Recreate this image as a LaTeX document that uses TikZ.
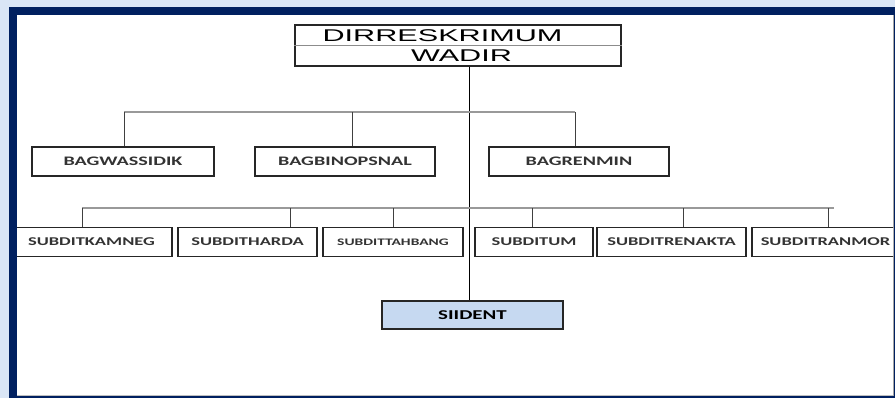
\documentclass[tikz,border=0pt]{standalone}
\usepackage{fontspec}
\newfontfamily\topfont[FakeStretch=1.8]{Liberation Sans}
\newfontfamily\bagfont[FakeStretch=1.55]{Carlito}
\definecolor{navy}{HTML}{002060}
\definecolor{bgblue}{HTML}{DAE6F6}
\definecolor{siifill}{HTML}{C6D9F1}
\begin{document}
\begin{tikzpicture}[x=1pt,y=-1pt,
  box/.style={draw=black!85, line width=1.3pt, fill=white, inner sep=0pt},
  bagbox/.style={box, minimum height=29pt, font=\bagfont\bfseries\fontsize{13}{13}\selectfont, text=black!80},
  subbox/.style={box, minimum height=28.5pt, font=\bagfont\bfseries\fontsize{11.9}{12}\selectfont, text=black!80},
  toptext/.style={inner sep=0pt, font=\topfont\fontsize{17}{17}\selectfont, text=black},
  bus/.style={draw=black!40, line width=1.4pt},
  drop/.style={draw=black!75, line width=0.9pt},
  spine/.style={draw=black, line width=0.8pt}]
\useasboundingbox (0,0) rectangle (895,398);
% frame
\fill[bgblue] (0,0) rectangle (895,398);
\fill[navy] (9,7) rectangle (895,398);
\fill[white] (17,15) rectangle (893,395.5);
\draw[black!35, line width=1pt] (893.5,15) -- (893.5,395.5);
\draw[black!25, line width=0.8pt] (17,395.2) -- (893,395.2);
\begin{scope}
\clip (17,15) rectangle (893,395);
% coordinates
\coordinate (bus1) at (469.5,112);
\coordinate (bus2) at (834,208);
% top box
\node[box, minimum width=326pt, minimum height=41pt] (top) at (458,45.5) {};
\draw[black!45, line width=0.9pt] (top.west) -- (top.east);
\node[toptext] (dir) at (442.5,35.5) {DIRRESKRIMUM};
\node[toptext] (wadir) at (461.5,56) {WADIR};
% bag level
\node[bagbox, minimum width=182pt] (bagw) at (123,161.5) {BAGWASSIDIK};
\node[bagbox, minimum width=180pt] (bagb) at (345,161.5) {BAGBINOPSNAL};
\node[bagbox, minimum width=180pt] (bagr) at (579,161.5) {BAGRENMIN};
% sub level
\node[subbox, minimum width=161pt] (kam) at (91.5,242) {SUBDITKAMNEG};
\node[subbox, minimum width=139pt] (har) at (247.5,242) {SUBDITHARDA};
\node[subbox, minimum width=140pt, font=\bagfont\bfseries\fontsize{10}{10}\selectfont] (tah) at (393,242) {SUBDITTAHBANG};
\node[subbox, minimum width=118pt] (um) at (534,242) {SUBDITUM};
\node[subbox, minimum width=149pt] (ren) at (671.5,242) {SUBDITRENAKTA};
\node[subbox, minimum width=147pt] (ran) at (825.5,242) {SUBDITRANMOR};
% siident
\node[box, fill=siifill, minimum width=181pt, minimum height=28pt, font=\bagfont\bfseries\fontsize{13.5}{13.5}\selectfont, text=black] (sii) at (472.5,315) {SIIDENT};
% connectors
\draw[spine] (top.south -| bus1) -- (sii.north -| bus1);
\draw[bus] ([xshift=1pt]bagw.north |- bus1) -- ([xshift=-4pt]bagr.north |- bus1);
\draw[drop] ([xshift=1pt]bagw.north) -- ([xshift=1pt]bagw.north |- bus1);
\draw[drop] ([xshift=7pt]bagb.north) -- ([xshift=7pt]bagb.north |- bus1);
\draw[drop] ([xshift=-4pt]bagr.north) -- ([xshift=-4pt]bagr.north |- bus1);
\draw[bus] ([xshift=-9.5pt]kam.north |- bus2) -- (bus2);
\draw[drop] ([xshift=-9.5pt]kam.north) -- ([xshift=-9.5pt]kam.north |- bus2);
\draw[drop] ([xshift=42.5pt]har.north) -- ([xshift=42.5pt]har.north |- bus2);
\draw[drop] (tah.north) -- (tah.north |- bus2);
\draw[drop] ([xshift=-2pt]um.north) -- ([xshift=-2pt]um.north |- bus2);
\draw[drop] ([xshift=11.5pt]ren.north) -- ([xshift=11.5pt]ren.north |- bus2);
\draw[drop] ([xshift=2.5pt]ran.north) -- ([xshift=2.5pt]ran.north |- bus2);
\end{scope}
\end{tikzpicture}
\end{document}
